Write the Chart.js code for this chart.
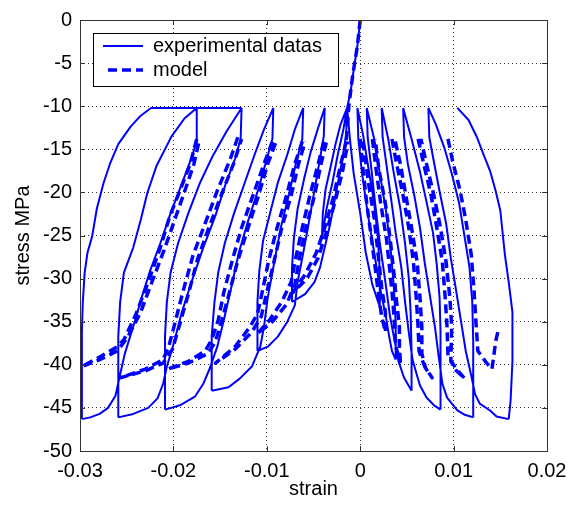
<!DOCTYPE html>
<html>
<head>
<meta charset="UTF-8">
<title>stress / strain</title>
<script src="https://cdn.jsdelivr.net/npm/chart.js"></script>
<style>
body{margin:0;background:#fff;}
#chart{display:block;}
</style>
</head>
<body>
<canvas id="chart" width="581" height="508"></canvas>
<script>
// axes
const xTicks = [-0.03, -0.02, -0.01, 0, 0.01, 0.02];
const xTickLabels = ['-0.03', '-0.02', '-0.01', '0', '0.01', '0.02'];
const yTicks = [0, -5, -10, -15, -20, -25, -30, -35, -40, -45, -50];
const yTickLabels = ['0', '-5', '-10', '-15', '-20', '-25', '-30', '-35', '-40', '-45', '-50'];

// experimental data [strain, stress MPa]
const expSpine = [[0,0],[-0.0003,-3.0],[-0.0007,-5.8],[-0.0010,-8.1],[-0.0014,-10.2],[-0.0018,-12.7],[-0.0024,-15.6],[-0.0030,-19.0],[-0.0036,-21.9],[-0.0041,-25.3]];

const expLeftUnload = [
  [[-0.0041,-25.3],[-0.0040,-22.4],[-0.0037,-19.6],[-0.0031,-16.7],[-0.0026,-14.2],[-0.0021,-12.1],[-0.0014,-10.2]],
  [[-0.0073,-32.7],[-0.0073,-28.7],[-0.0071,-25.3],[-0.0067,-21.9],[-0.0060,-18.4],[-0.0053,-15.3],[-0.0045,-12.5],[-0.0038,-10.2]],
  [[-0.0110,-38.4],[-0.0110,-32.7],[-0.0108,-29.1],[-0.0104,-25.6],[-0.0096,-22.2],[-0.0088,-18.8],[-0.0078,-15.6],[-0.0070,-12.7],[-0.0061,-10.2]],
  [[-0.0159,-43.0],[-0.0159,-36.7],[-0.0156,-32.7],[-0.0152,-29.3],[-0.0145,-25.9],[-0.0135,-22.4],[-0.0124,-19.0],[-0.0113,-15.6],[-0.0103,-12.7],[-0.0093,-10.2]],
  [[-0.0209,-45.2],[-0.0209,-36.7],[-0.0207,-32.7],[-0.0203,-29.3],[-0.0195,-25.9],[-0.0184,-22.4],[-0.0172,-19.0],[-0.0158,-15.8],[-0.0143,-12.9],[-0.0127,-10.2]],
  [[-0.0259,-46.1],[-0.0259,-36.7],[-0.0257,-32.7],[-0.0253,-29.3],[-0.0243,-26.4],[-0.0235,-23.2],[-0.0228,-20.1],[-0.0218,-16.9],[-0.0202,-13.5],[-0.0188,-11.4],[-0.0175,-10.2]],
  [[-0.0298,-46.3],[-0.0298,-41.9],[-0.0298,-36.2],[-0.0297,-32.7],[-0.0295,-29.3],[-0.0292,-27.0],[-0.0287,-25.1],[-0.0282,-21.9],[-0.0275,-19.0],[-0.0268,-16.7],[-0.0259,-14.4],[-0.0246,-12.4],[-0.0235,-11.1],[-0.0224,-10.2],[-0.0127,-10.2]]
];

const expLeftReload = [
  [[-0.0014,-10.2],[-0.0015,-13.3],[-0.0020,-16.7],[-0.0026,-20.1],[-0.0032,-23.6],[-0.0038,-26.4],[-0.0043,-28.7],[-0.0049,-30.4],[-0.0059,-31.8],[-0.0073,-32.7]],
  [[-0.0038,-10.2],[-0.0039,-13.5],[-0.0044,-16.7],[-0.0050,-20.4],[-0.0056,-24.1],[-0.0062,-27.6],[-0.0067,-30.4],[-0.0070,-33.1],[-0.0078,-35.0],[-0.0088,-36.7],[-0.0099,-37.9],[-0.0110,-38.4]],
  [[-0.0061,-10.2],[-0.0062,-13.8],[-0.0069,-16.7],[-0.0076,-20.1],[-0.0085,-24.1],[-0.0092,-28.1],[-0.0099,-32.2],[-0.0103,-35.6],[-0.0107,-37.9],[-0.0116,-40.2],[-0.0129,-41.6],[-0.0141,-42.6],[-0.0159,-43.0]],
  [[-0.0093,-10.2],[-0.0094,-13.8],[-0.0101,-16.5],[-0.0109,-19.6],[-0.0120,-23.3],[-0.0130,-27.0],[-0.0138,-31.0],[-0.0146,-34.8],[-0.0153,-37.9],[-0.0161,-40.4],[-0.0168,-42.2],[-0.0177,-43.7],[-0.0193,-44.7],[-0.0209,-45.2]],
  [[-0.0127,-10.2],[-0.0128,-13.8],[-0.0134,-16.1],[-0.0144,-19.0],[-0.0155,-22.7],[-0.0168,-26.4],[-0.0180,-30.2],[-0.0191,-33.9],[-0.0199,-37.3],[-0.0207,-40.2],[-0.0211,-42.2],[-0.0217,-43.9],[-0.0227,-45.0],[-0.0243,-45.7],[-0.0259,-46.1]],
  [[-0.0175,-10.2],[-0.0175,-14.1],[-0.0181,-16.1],[-0.0191,-19.0],[-0.0203,-22.4],[-0.0214,-25.9],[-0.0225,-29.1],[-0.0234,-32.2],[-0.0242,-35.2],[-0.0252,-38.7],[-0.0258,-41.6],[-0.0262,-43.6],[-0.0270,-45.0],[-0.0279,-45.7],[-0.0289,-46.1],[-0.0298,-46.3]]
];

const expRightUnload = [
  [[0.0021,-33.3],[0.0021,-29.3],[0.0019,-25.3],[0.0015,-21.3],[0.0009,-17.3],[0.0003,-13.3],[-0.0003,-10.2]],
  [[0.0038,-39.4],[0.0038,-35.0],[0.0036,-31.0],[0.0033,-27.0],[0.0028,-22.4],[0.0021,-17.8],[0.0015,-13.8],[0.0007,-10.2]],
  [[0.0055,-43.0],[0.0055,-38.4],[0.0054,-33.9],[0.0052,-29.9],[0.0048,-25.9],[0.0043,-21.9],[0.0036,-17.8],[0.0030,-13.8],[0.0023,-10.2]],
  [[0.0086,-45.2],[0.0086,-40.7],[0.0086,-36.2],[0.0085,-32.2],[0.0082,-28.4],[0.0078,-24.7],[0.0071,-21.1],[0.0064,-17.6],[0.0055,-13.8],[0.0046,-10.2]],
  [[0.0121,-46.1],[0.0121,-41.9],[0.0121,-37.3],[0.0120,-32.7],[0.0117,-28.7],[0.0112,-25.3],[0.0106,-21.3],[0.0098,-17.8],[0.0090,-14.8],[0.0081,-12.1],[0.0073,-10.2]],
  [[0.0159,-46.3],[0.0161,-44.2],[0.0163,-39.6],[0.0163,-33.9],[0.0159,-30.4],[0.0155,-27.3],[0.0150,-22.1],[0.0145,-19.8],[0.0139,-17.5],[0.0132,-15.6],[0.0125,-13.6],[0.0116,-11.6],[0.0104,-10.2]]
];

const expRightReload = [
  [[-0.0014,-10.2],[-0.0011,-13.8],[-0.0007,-17.8],[0.0000,-22.4],[0.0006,-27.0],[0.0013,-30.7],[0.0021,-33.3]],
  [[-0.0003,-10.2],[-0.0002,-13.8],[0.0002,-17.8],[0.0008,-22.4],[0.0015,-27.0],[0.0021,-31.0],[0.0027,-34.1],[0.0031,-36.7],[0.0034,-38.4],[0.0038,-39.4]],
  [[0.0007,-10.2],[0.0008,-13.6],[0.0012,-17.3],[0.0016,-21.3],[0.0021,-25.9],[0.0027,-30.4],[0.0032,-34.4],[0.0037,-37.3],[0.0041,-39.6],[0.0047,-41.5],[0.0055,-43.0]],
  [[0.0023,-10.2],[0.0024,-13.6],[0.0028,-16.7],[0.0033,-20.7],[0.0038,-24.7],[0.0044,-28.7],[0.0048,-32.7],[0.0052,-36.2],[0.0056,-39.4],[0.0061,-41.3],[0.0064,-42.4],[0.0071,-43.8],[0.0079,-44.7],[0.0086,-45.2]],
  [[0.0046,-10.2],[0.0047,-13.6],[0.0051,-16.7],[0.0058,-20.4],[0.0064,-24.1],[0.0069,-28.1],[0.0075,-32.2],[0.0080,-35.6],[0.0084,-39.0],[0.0088,-42.2],[0.0093,-43.8],[0.0104,-45.3],[0.0112,-45.8],[0.0121,-46.1]],
  [[0.0073,-10.2],[0.0074,-13.6],[0.0079,-16.5],[0.0085,-19.9],[0.0092,-23.6],[0.0097,-27.6],[0.0103,-31.6],[0.0108,-35.0],[0.0113,-38.4],[0.0119,-41.3],[0.0123,-43.4],[0.0128,-44.5],[0.0139,-45.3],[0.0146,-46.0],[0.0159,-46.3]]
];

// model [strain, stress MPa]
const modelSpine = [[0,0],[-0.0003,-3.0],[-0.0008,-6.4],[-0.0012,-9.8],[-0.0015,-14.1]];

const modelLeft = [
  [[-0.0015,-14.1],[-0.0022,-17.3],[-0.0029,-20.7],[-0.0038,-24.1],[-0.0047,-27.0],[-0.0059,-29.5],[-0.0072,-31.6],[-0.0057,-30.0],[-0.0045,-27.6],[-0.0036,-24.5],[-0.0027,-21.1],[-0.0019,-17.6],[-0.0013,-14.1]],
  [[-0.0039,-14.1],[-0.0045,-16.7],[-0.0054,-20.4],[-0.0062,-24.1],[-0.0069,-27.6],[-0.0074,-30.4],[-0.0084,-32.7],[-0.0097,-34.8],[-0.0110,-36.4],[-0.0094,-35.0],[-0.0079,-33.0],[-0.0070,-30.7],[-0.0065,-27.6],[-0.0058,-24.1],[-0.0049,-20.4],[-0.0042,-16.7],[-0.0036,-14.1]],
  [[-0.0062,-14.1],[-0.0070,-16.7],[-0.0079,-20.4],[-0.0089,-24.1],[-0.0098,-27.9],[-0.0105,-31.6],[-0.0110,-34.1],[-0.0118,-35.6],[-0.0134,-37.9],[-0.0155,-39.8],[-0.0134,-38.2],[-0.0116,-36.2],[-0.0106,-34.4],[-0.0100,-31.6],[-0.0092,-27.9],[-0.0084,-24.1],[-0.0074,-20.4],[-0.0066,-16.7],[-0.0059,-14.1]],
  [[-0.0094,-14.1],[-0.0103,-16.7],[-0.0115,-20.4],[-0.0127,-24.1],[-0.0137,-27.9],[-0.0146,-31.6],[-0.0152,-34.8],[-0.0159,-37.1],[-0.0166,-38.4],[-0.0184,-39.6],[-0.0206,-40.5],[-0.0184,-39.8],[-0.0163,-38.7],[-0.0155,-37.3],[-0.0148,-34.8],[-0.0140,-31.6],[-0.0131,-27.9],[-0.0120,-24.1],[-0.0109,-20.4],[-0.0099,-16.7],[-0.0090,-14.1]],
  [[-0.0131,-13.6],[-0.0139,-16.1],[-0.0153,-19.8],[-0.0166,-23.6],[-0.0179,-27.3],[-0.0190,-31.6],[-0.0198,-35.0],[-0.0205,-37.9],[-0.0211,-39.4],[-0.0230,-40.5],[-0.0257,-41.5],[-0.0230,-40.7],[-0.0211,-39.8],[-0.0201,-38.2],[-0.0193,-35.2],[-0.0184,-31.8],[-0.0174,-27.7],[-0.0161,-23.8],[-0.0148,-20.1],[-0.0135,-16.5],[-0.0127,-13.8]],
  [[-0.0175,-13.8],[-0.0182,-16.7],[-0.0193,-19.8],[-0.0204,-22.8],[-0.0214,-26.4],[-0.0227,-30.4],[-0.0240,-34.1],[-0.0253,-37.1],[-0.0260,-37.9],[-0.0279,-39.1],[-0.0298,-40.2],[-0.0279,-39.4],[-0.0260,-38.4],[-0.0249,-36.8],[-0.0235,-33.9],[-0.0223,-30.4],[-0.0210,-26.7],[-0.0198,-23.0],[-0.0188,-19.9],[-0.0178,-16.7],[-0.0172,-13.8]]
];

const modelRight = [
  [[0.0000,-13.8],[0.0003,-17.3],[0.0007,-21.3],[0.0012,-25.3],[0.0016,-28.7],[0.0020,-32.2],[0.0023,-34.4],[0.0027,-36.2],[0.0027,-33.9],[0.0023,-31.0],[0.0019,-27.0],[0.0015,-23.0],[0.0009,-19.0],[0.0005,-15.6],[0.0002,-13.8]],
  [[0.0013,-13.8],[0.0017,-17.3],[0.0022,-21.3],[0.0028,-25.3],[0.0032,-29.3],[0.0035,-32.7],[0.0037,-35.6],[0.0038,-37.9],[0.0043,-39.6],[0.0042,-37.9],[0.0042,-35.6],[0.0039,-32.7],[0.0036,-29.3],[0.0032,-25.3],[0.0027,-21.3],[0.0020,-17.3],[0.0016,-13.8]],
  [[0.0034,-13.8],[0.0039,-16.7],[0.0046,-20.4],[0.0052,-24.1],[0.0057,-28.1],[0.0060,-32.2],[0.0062,-35.6],[0.0063,-38.4],[0.0069,-40.2],[0.0077,-41.5],[0.0070,-40.4],[0.0066,-38.7],[0.0066,-35.6],[0.0064,-32.2],[0.0061,-28.1],[0.0055,-24.1],[0.0049,-20.4],[0.0043,-16.7],[0.0037,-13.8]],
  [[0.0062,-13.8],[0.0068,-16.7],[0.0076,-20.4],[0.0082,-24.1],[0.0088,-28.1],[0.0091,-32.2],[0.0093,-35.6],[0.0094,-39.0],[0.0103,-40.5],[0.0112,-41.6],[0.0103,-40.7],[0.0097,-39.6],[0.0098,-35.6],[0.0096,-32.2],[0.0092,-28.1],[0.0086,-24.1],[0.0079,-20.4],[0.0071,-16.7],[0.0065,-13.8]],
  [[0.0094,-13.8],[0.0099,-16.4],[0.0107,-19.8],[0.0113,-23.2],[0.0119,-27.3],[0.0122,-31.6],[0.0124,-35.2],[0.0126,-38.4],[0.0134,-39.6],[0.0141,-40.5],[0.0143,-39.0],[0.0145,-37.3],[0.0148,-35.9]]
];

const BLUE = '#0000ff';
const FONT = {family: 'Arial, "Liberation Sans", Helvetica, sans-serif', size: 20};

// curves -> points, a null between curves breaks the line
function toPoints(curves){
  const pts = [];
  curves.forEach(c => {
    c.forEach(p => pts.push({x: p[0], y: p[1]}));
    pts.push({x: c[c.length - 1][0], y: null});
  });
  return pts;
}

const expData = toPoints([expSpine].concat(expLeftUnload, expLeftReload, expRightUnload, expRightReload));
const modelData = toPoints([modelSpine].concat(modelLeft, modelRight));

// box with inward ticks, like matlab axes
const boxPlugin = {
  id: 'box',
  afterDatasetsDraw(chart){
    const {ctx, chartArea: a, scales} = chart;
    ctx.save();
    ctx.strokeStyle = '#333';
    ctx.lineWidth = 1;
    ctx.strokeRect(a.left + 0.5, a.top + 0.5, a.right - a.left, a.bottom - a.top);
    ctx.beginPath();
    xTicks.forEach(v => {
      const px = Math.round(scales.x.getPixelForValue(v)) + 0.5;
      ctx.moveTo(px, a.bottom); ctx.lineTo(px, a.bottom - 5);
      ctx.moveTo(px, a.top); ctx.lineTo(px, a.top + 5);
    });
    yTicks.forEach(v => {
      const py = Math.round(scales.y.getPixelForValue(v)) + 0.5;
      ctx.moveTo(a.left, py); ctx.lineTo(a.left + 5, py);
      ctx.moveTo(a.right, py); ctx.lineTo(a.right - 5, py);
    });
    ctx.stroke();
    ctx.restore();
  }
};

// legend box in the upper left of the plot
const legendPlugin = {
  id: 'boxLegend',
  afterDraw(chart){
    const {ctx, chartArea: a} = chart;
    const left = a.left + 13, top = a.top + 13, w = 245, h = 53;
    ctx.save();
    ctx.fillStyle = '#fff';
    ctx.fillRect(left, top, w, h);
    ctx.strokeStyle = '#000';
    ctx.lineWidth = 1;
    ctx.strokeRect(left + 0.5, top + 0.5, w, h);
    chart.data.datasets.forEach((ds, i) => {
      const y = top + 13 + i * 24;
      ctx.strokeStyle = ds.borderColor;
      ctx.lineWidth = ds.borderWidth;
      ctx.setLineDash(ds.borderDash || []);
      ctx.beginPath();
      ctx.moveTo(left + (i ? 15 : 10), y);
      ctx.lineTo(left + 50, y);
      ctx.stroke();
      ctx.setLineDash([]);
      ctx.fillStyle = '#000';
      ctx.font = FONT.size + 'px ' + FONT.family;
      ctx.textBaseline = 'middle';
      ctx.fillText(ds.label, left + 60, y);
    });
    ctx.restore();
  }
};

new Chart(document.getElementById('chart'), {
  type: 'scatter',
  data: {
    datasets: [
      {label: 'experimental datas', data: expData, showLine: true, borderColor: BLUE, borderWidth: 2,
       pointRadius: 0, borderJoinStyle: 'round', tension: 0, spanGaps: false},
      {label: 'model', data: modelData, showLine: true, borderColor: BLUE, borderWidth: 3.5, borderDash: [9, 5],
       pointRadius: 0, borderJoinStyle: 'round', tension: 0, spanGaps: false}
    ]
  },
  options: {
    responsive: false,
    animation: false,
    layout: {padding: {top: 14, right: 34, bottom: 0, left: 0}},
    plugins: {legend: {display: false}, tooltip: {enabled: false}},
    scales: {
      x: {
        type: 'linear', min: -0.03, max: 0.02,
        afterBuildTicks: s => { s.ticks = xTicks.map(v => ({value: v})); },
        afterFit: s => { s.height = 57; },
        ticks: {callback: (v, i) => xTickLabels[i], color: '#000', font: FONT, padding: 8, maxRotation: 0, autoSkip: false},
        grid: {color: '#333', lineWidth: 1, drawTicks: false},
        border: {display: false, dash: [1, 3]},
        title: {display: true, text: 'strain', color: '#000', font: FONT, padding: {top: 0, bottom: 7}}
      },
      y: {
        type: 'linear', min: -50, max: 0,
        afterBuildTicks: s => { s.ticks = yTicks.map(v => ({value: v})); },
        afterFit: s => { s.width = 80; },
        ticks: {callback: (v, i) => yTickLabels[i], color: '#000', font: FONT, padding: 8, autoSkip: false},
        grid: {color: '#333', lineWidth: 1, drawTicks: false},
        border: {display: false, dash: [1, 3]},
        title: {display: true, text: 'stress MPa', color: '#000', font: FONT, padding: {top: 11, bottom: 0}}
      }
    }
  },
  plugins: [boxPlugin, legendPlugin]
});
</script>
</body>
</html>
